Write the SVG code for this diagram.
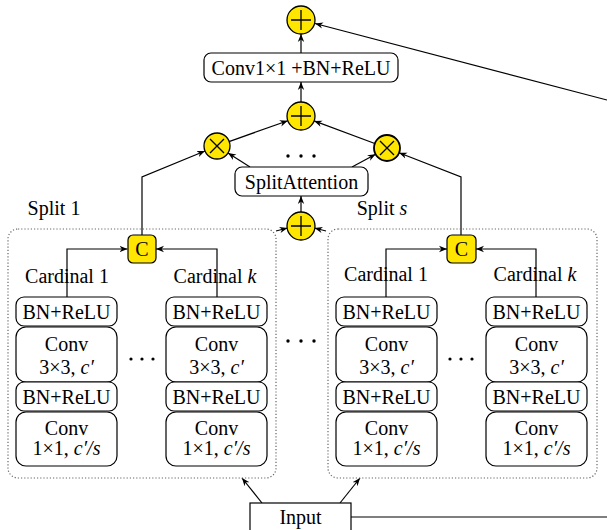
<svg xmlns="http://www.w3.org/2000/svg" width="607" height="530" viewBox="0 0 607 530" font-family="'Liberation Serif', 'DejaVu Serif', serif">
<style>
text{font-family:'Liberation Serif','DejaVu Serif',serif;font-size:20px;fill:#000;text-anchor:middle}
.box{fill:#fff;stroke:#000;stroke-width:1.2}
.op{fill:#FFE600;stroke:#000;stroke-width:1.3}
.split{fill:none;stroke:#666;stroke-width:1.2;stroke-dasharray:1.2 2}
.c{fill:none;stroke:#000;stroke-width:1.2}
.a{fill:none;stroke:#000;stroke-width:1.2;marker-end:url(#ah)}
.sym{fill:none;stroke:#000;stroke-width:1.3}
.dot{fill:#000}
</style>
<defs>
<marker id="ah" viewBox="0 0 10 10" refX="10" refY="5" markerWidth="8" markerHeight="8" markerUnits="userSpaceOnUse" orient="auto">
<path d="M0,1 L10,5 L0,9 L3,5 Z" fill="#000"/>
</marker>
</defs>

<g id="connectors">
<line class="a" x1="607" y1="100" x2="315" y2="23.5"/>
<line class="a" x1="301" y1="53" x2="301" y2="34"/>
<line class="a" x1="301" y1="102" x2="301" y2="82"/>
<line class="a" x1="229" y1="141.6" x2="287.8" y2="120.7"/>
<line class="a" x1="374.8" y1="143.5" x2="314.1" y2="120.9"/>
<line class="a" x1="250" y1="167" x2="228" y2="153"/>
<line class="a" x1="352" y1="167" x2="375.6" y2="154.2"/>
<line class="a" x1="301" y1="212" x2="301" y2="196"/>
<polyline class="a" points="142,235 142,177 205,151"/>
<polyline class="a" points="461,235 461,177 399,152.7"/>
<line class="a" x1="276" y1="231" x2="287.5" y2="228"/>
<line class="a" x1="326" y1="231" x2="314.5" y2="228"/>
<polyline class="a" points="67,297 67,249 127.5,249"/>
<polyline class="a" points="217,297 217,249 156,249"/>
<polyline class="a" points="386,297 386,249 447,249"/>
<polyline class="a" points="536,297 536,249 476,249"/>
<line class="a" x1="262" y1="503" x2="242" y2="478"/>
<line class="a" x1="340" y1="503" x2="360" y2="478"/>
<line class="c" x1="351" y1="517" x2="607" y2="517"/>
</g>

<g id="split1">
<rect class="split" x="8" y="229" width="268" height="249" rx="10"/>
<text x="54" y="215">Split 1</text>
</g>
<g id="splits">
<rect class="split" x="328" y="229" width="269" height="249" rx="10"/>
<text x="382" y="215">Split <tspan font-style="italic">s</tspan></text>
</g>

<g id="plus-top">
<circle class="op" cx="301" cy="20" r="14"/>
<path class="sym" d="M291,20 H311 M301,10 V30"/>
</g>
<g id="conv1x1">
<rect class="box" x="204" y="53" width="194" height="29" rx="7"/>
<text x="301" y="75">Conv1×1 +BN+ReLU</text>
</g>
<g id="plus-mid">
<circle class="op" cx="301" cy="116" r="14"/>
<path class="sym" d="M291,116 H311 M301,106 V126"/>
</g>
<g id="mul-left">
<circle class="op" cx="217" cy="146" r="13"/>
<path class="sym" d="M210,139 L224,153 M224,139 L210,153"/>
</g>
<g id="mul-right">
<circle class="op" cx="387" cy="148" r="13" style="stroke-width:1.8"/>
<path class="sym" d="M380,141 L394,155 M394,141 L380,155"/>
</g>
<g id="dots-top">
<circle class="dot" cx="288" cy="156" r="1.7"/><circle class="dot" cx="301" cy="156" r="1.7"/><circle class="dot" cx="314" cy="156" r="1.7"/>
</g>
<g id="splitattention">
<rect class="box" x="235" y="167" width="133" height="29" rx="7"/>
<text x="301.5" y="189">SplitAttention</text>
</g>
<g id="plus-bottom">
<circle class="op" cx="301" cy="226" r="14"/>
<path class="sym" d="M291,226 H311 M301,216 V236"/>
</g>
<g id="dots-splits">
<circle class="dot" cx="288" cy="341" r="1.7"/><circle class="dot" cx="301" cy="341" r="1.7"/><circle class="dot" cx="314" cy="341" r="1.7"/>
</g>

<g id="concat-1">
<rect x="128" y="235" width="28" height="28" rx="5" fill="#FFE600" stroke="#000" stroke-width="1.2"/>
<text x="142" y="256">C</text>
</g>
<g id="s1-card1">
<text x="67" y="283">Cardinal 1</text>
<rect class="box" x="16" y="297" width="101" height="29" rx="8"/>
<text x="66.5" y="319">BN+ReLU</text>
<rect class="box" x="16" y="327" width="101" height="55" rx="10"/>
<text x="66.5" y="351">Conv</text>
<text x="66.5" y="374">3×3, <tspan font-style="italic">c′</tspan></text>
<rect class="box" x="16" y="382" width="101" height="29" rx="8"/>
<text x="66.5" y="404">BN+ReLU</text>
<rect class="box" x="16" y="412" width="101" height="54" rx="10"/>
<text x="66.5" y="435">Conv</text>
<text x="66.5" y="455">1×1, <tspan font-style="italic">c′/s</tspan></text>
</g>
<g id="s1-cardk">
<text x="215" y="283">Cardinal <tspan font-style="italic">k</tspan></text>
<rect class="box" x="166" y="297" width="101" height="29" rx="8"/>
<text x="216.5" y="319">BN+ReLU</text>
<rect class="box" x="166" y="327" width="101" height="55" rx="10"/>
<text x="216.5" y="351">Conv</text>
<text x="216.5" y="374">3×3, <tspan font-style="italic">c′</tspan></text>
<rect class="box" x="166" y="382" width="101" height="29" rx="8"/>
<text x="216.5" y="404">BN+ReLU</text>
<rect class="box" x="166" y="412" width="101" height="54" rx="10"/>
<text x="216.5" y="435">Conv</text>
<text x="216.5" y="455">1×1, <tspan font-style="italic">c′/s</tspan></text>
</g>
<g id="s1-dots">
<circle class="dot" cx="131" cy="359" r="1.6"/><circle class="dot" cx="142" cy="359" r="1.6"/><circle class="dot" cx="153" cy="359" r="1.6"/>
</g>

<g id="concat-s">
<rect x="447" y="235" width="29" height="28" rx="5" fill="#FFE600" stroke="#000" stroke-width="1.2"/>
<text x="461.5" y="256">C</text>
</g>
<g id="ss-card1">
<text x="386" y="281">Cardinal 1</text>
<rect class="box" x="336" y="297" width="101" height="29" rx="8"/>
<text x="386.5" y="319">BN+ReLU</text>
<rect class="box" x="336" y="327" width="101" height="55" rx="10"/>
<text x="386.5" y="351">Conv</text>
<text x="386.5" y="374">3×3, <tspan font-style="italic">c′</tspan></text>
<rect class="box" x="336" y="382" width="101" height="29" rx="8"/>
<text x="386.5" y="404">BN+ReLU</text>
<rect class="box" x="336" y="412" width="101" height="54" rx="10"/>
<text x="386.5" y="435">Conv</text>
<text x="386.5" y="455">1×1, <tspan font-style="italic">c′/s</tspan></text>
</g>
<g id="ss-cardk">
<text x="535" y="281">Cardinal <tspan font-style="italic">k</tspan></text>
<rect class="box" x="486" y="297" width="101" height="29" rx="8"/>
<text x="536.5" y="319">BN+ReLU</text>
<rect class="box" x="486" y="327" width="101" height="55" rx="10"/>
<text x="536.5" y="351">Conv</text>
<text x="536.5" y="374">3×3, <tspan font-style="italic">c′</tspan></text>
<rect class="box" x="486" y="382" width="101" height="29" rx="8"/>
<text x="536.5" y="404">BN+ReLU</text>
<rect class="box" x="486" y="412" width="101" height="54" rx="10"/>
<text x="536.5" y="435">Conv</text>
<text x="536.5" y="455">1×1, <tspan font-style="italic">c′/s</tspan></text>
</g>
<g id="ss-dots">
<circle class="dot" cx="450" cy="359" r="1.6"/><circle class="dot" cx="461" cy="359" r="1.6"/><circle class="dot" cx="472" cy="359" r="1.6"/>
</g>

<g id="input">
<rect x="250" y="503" width="101" height="30" fill="#fff" stroke="#000" stroke-width="1.2"/>
<text x="300.5" y="524">Input</text>
</g>
</svg>
